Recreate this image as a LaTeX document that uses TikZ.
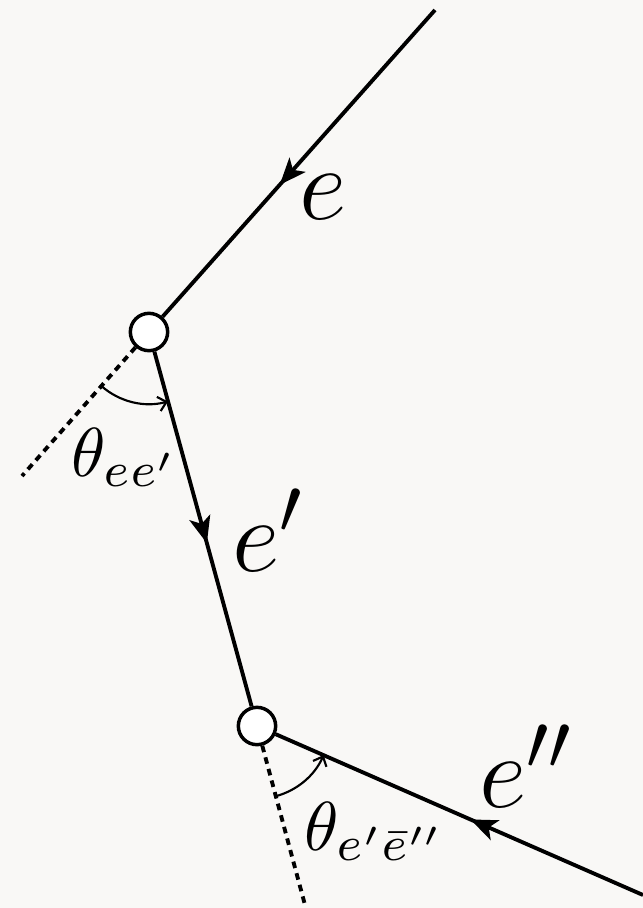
\documentclass[tikz,border=0pt]{standalone}
\usepackage{fix-cm}
\usetikzlibrary{arrows.meta,decorations.markings}
\DeclareMathSizes{78}{78}{60}{45}
\definecolor{bgc}{RGB}{249,248,246}
\tikzset{
  vtx/.style={circle,draw=black,fill=white,line width=2.6pt,minimum size=28pt,inner sep=0pt},
  edgeline/.style={line width=2.9pt,black},
  midarrow/.style={postaction={decorate},decoration={markings,mark=at position #1 with {\arrow{Stealth[length=20pt,width=16pt,inset=5pt]}}}},
  extline/.style={line width=2.9pt,dash pattern=on 5pt off 4pt},
  anglearc/.style={line width=1.6pt,-{Straight Barb[length=6pt,width=11pt,line width=1.6pt]}},
  biglab/.style={inner sep=0pt,anchor=base west,font=\fontsize{78}{90}\selectfont},
  thlab/.style={inner sep=0pt,anchor=base west,scale=5.2}
}
\begin{document}
\begin{tikzpicture}[x=0.75pt,y=-0.75pt]
\fill[bgc] (0,0) rectangle (643,908);
\useasboundingbox (0,0) rectangle (643,908);
\coordinate (top) at (435,10);
\coordinate (bot) at (643,895);
\coordinate (d1) at (22,476);
\coordinate (d2) at (305,905);
\node[vtx] (n1) at (149,332) {};
\node[vtx] (n2) at (257,726) {};
\draw[extline] (n1) -- (d1);
\draw[extline] (n2) -- (d2);
\draw[edgeline,midarrow=0.57] (top) -- (n1);
\draw[edgeline,midarrow=0.54] (n1) -- (n2);
\draw[edgeline,midarrow=0.47] (bot) -- (n2);
\draw[anglearc] (n1.center) ++(228.6:54pt) arc[start angle=228.6,end angle=285.3,radius=54pt];
\draw[anglearc] (n2.center) ++(285.3:54.5pt) arc[start angle=285.3,end angle=336.4,radius=54.5pt];
\node[biglab] (le) at (299,219) {$e$};
\node[biglab] (le1) at (232,571) {$e'$};
\node[biglab] (le2) at (479,807) {$e''$};
\node[thlab] (t1) at (70,476) {$\theta_{ee'}$};
\node[thlab] (t2) at (303,850) {$\theta_{e'\bar{e}''}$};
\end{tikzpicture}
\end{document}
